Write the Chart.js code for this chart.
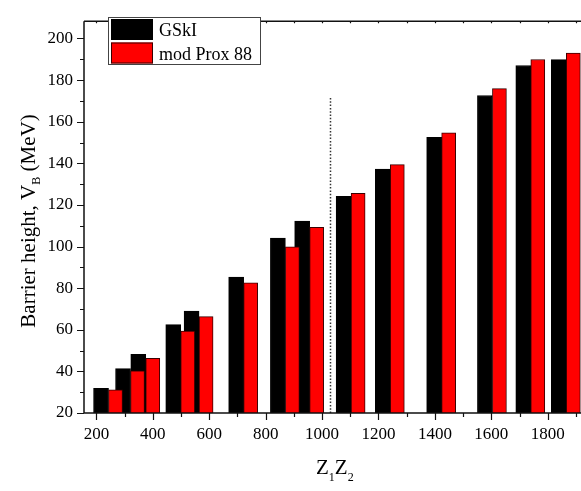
<!DOCTYPE html>
<html>
<head>
<meta charset="utf-8">
<script src="https://cdn.jsdelivr.net/npm/chart.js@4"></script>
<style>
	body { margin: 0; background: #fff; }
	#wrap { width: 581px; height: 491px; }
</style>
</head>
<body>
<div id="wrap"><canvas id="chart" width="581" height="491"></canvas></div>
<script>
// Z1Z2 of each system, and barrier heights (MeV)
const z12 = [243, 321, 375, 499, 564, 722, 870, 956, 1103, 1242, 1424, 1604, 1740, 1866]
const gski = [31.9, 41.3, 48.2, 62.5, 69.0, 85.3, 104.1, 112.2, 124.1, 137.2, 152.5, 172.6, 187.0, 189.8]
const prox = [31.1, 40.3, 46.3, 59.4, 66.3, 82.5, 99.9, 109.2, 125.6, 139.4, 154.7, 175.9, 189.9, 193.0]
const seriesNames = ['GSkI', 'mod Prox 88']

const xTicks = [200, 400, 600, 800, 1000, 1200, 1400, 1600, 1800]
const yTicks = [20, 40, 60, 80, 100, 120, 140, 160, 180, 200]
const dividerZ = 1028
const dividerTop = 172

const serif = "'Liberation Serif', 'Times New Roman', serif"
Chart.defaults.font.family = serif

// draw black first, red on top (Origin order)
const drawOrder = {
	id: 'drawOrder',
	beforeDatasetsDraw(chart) {
		const { ctx, chartArea: a } = chart
		ctx.save()
		ctx.beginPath()
		ctx.rect(a.left, a.top, a.right - a.left, a.bottom - a.top)
		ctx.clip()
		chart.data.datasets.forEach((ds, i) => chart.getDatasetMeta(i).controller.draw())
		ctx.restore()
		return false
	},
}

const frame = {
	id: 'frame',
	afterDraw(chart) {
		const { ctx, chartArea: a, scales } = chart
		const x = scales.x
		const y = scales.y
		ctx.save()

		// dotted divider
		ctx.strokeStyle = '#333'
		ctx.lineWidth = 1.5
		ctx.setLineDash([1.5, 1.8])
		const dx = Math.round(x.getPixelForValue(dividerZ)) + 0.5
		ctx.beginPath()
		ctx.moveTo(dx, a.bottom)
		ctx.lineTo(dx, y.getPixelForValue(dividerTop))
		ctx.stroke()
		ctx.setLineDash([])

		// axes frame
		ctx.strokeStyle = '#111'
		ctx.lineWidth = 1.5
		ctx.beginPath()
		ctx.moveTo(a.left, a.top)
		ctx.lineTo(a.left, a.bottom)
		ctx.lineTo(a.right, a.bottom)
		ctx.moveTo(a.left, a.top)
		ctx.lineTo(a.right, a.top)
		ctx.stroke()

		// ticks
		ctx.lineWidth = 1.2
		ctx.beginPath()
		for (let v = yTicks[0]; v <= yTicks[yTicks.length - 1]; v += 10) {
			const py = Math.round(y.getPixelForValue(v)) + 0.5
			const len = v % 20 === 0 ? 7 : 4
			ctx.moveTo(a.left - len, py)
			ctx.lineTo(a.left, py)
		}
		for (let v = 100; v <= 1900; v += 100) {
			const px = Math.round(x.getPixelForValue(v)) + 0.5
			if (px < a.left || px > a.right) continue
			const len = v % 200 === 0 ? 7 : 4
			ctx.moveTo(px, a.bottom)
			ctx.lineTo(px, a.bottom + len)
			ctx.moveTo(px, a.top)
			ctx.lineTo(px, a.top + 2)
		}
		ctx.stroke()

		// legend
		ctx.fillStyle = '#fff'
		ctx.fillRect(108, 17, 152, 47)
		ctx.strokeStyle = '#444'
		ctx.lineWidth = 1
		ctx.strokeRect(108.5, 17.5, 152, 47)
		chart.data.datasets.forEach((ds, i) => {
			const top = 19 + i * 23.5
			ctx.fillStyle = ds.backgroundColor
			ctx.fillRect(111, top, 42, 21)
			ctx.strokeStyle = ds.borderColor
			ctx.strokeRect(111.5, top + 0.5, 41, 20)
			ctx.fillStyle = '#000'
			ctx.font = `18px ${serif}`
			ctx.textBaseline = 'alphabetic'
			ctx.textAlign = 'left'
			ctx.fillText(ds.label, 159, top + 17)
		})

		// x title: Z1Z2
		ctx.fillStyle = '#000'
		ctx.textAlign = 'left'
		ctx.textBaseline = 'alphabetic'
		let tx = 316
		const parts = [['Z', 0], ['1', 1], ['Z', 0], ['2', 1]]
		parts.forEach(([t, sub]) => {
			ctx.font = sub ? `12px ${serif}` : `21px ${serif}`
			ctx.fillText(t, tx, sub ? 481 : 474)
			tx += ctx.measureText(t).width
		})

		// y title
		const yParts = [['Barrier height, V', 0], ['B', 1], [' (MeV)', 0]]
		let total = 0
		yParts.forEach(([t, sub]) => {
			ctx.font = sub ? `12px ${serif}` : `21px ${serif}`
			total += ctx.measureText(t).width
		})
		ctx.translate(35, 221)
		ctx.rotate(-Math.PI / 2)
		let ty = -total / 2
		yParts.forEach(([t, sub]) => {
			ctx.font = sub ? `12px ${serif}` : `21px ${serif}`
			ctx.fillText(t, ty, sub ? 5 : 0)
			ty += ctx.measureText(t).width
		})
		ctx.restore()
	},
}

const ctx = document.getElementById('chart').getContext('2d')
new Chart(ctx, {
	type: 'bar',
	data: {
		datasets: [
			{
				label: seriesNames[0],
				data: z12.map((z, i) => ({ x: z, y: gski[i] })),
				backgroundColor: '#000000',
				borderColor: '#000000',
				borderWidth: 1,
				barThickness: 15,
			},
			{
				label: seriesNames[1],
				data: z12.map((z, i) => ({ x: z, y: prox[i] })),
				backgroundColor: '#ff0000',
				borderColor: '#3a0000',
				borderWidth: 1,
				barThickness: 14,
			},
		],
	},
	options: {
		responsive: false,
		animation: false,
		layout: { padding: { top: 7, right: 0, left: 0, bottom: 0 } },
		plugins: {
			legend: { display: false },
			tooltip: { enabled: false },
		},
		scales: {
			x: {
				type: 'linear',
				min: 156,
				max: 1918,
				offset: false,
				grid: { display: false, drawTicks: false },
				border: { display: false },
				ticks: {
					color: '#000',
					padding: 11,
					maxRotation: 0,
					font: { family: serif, size: 17 },
					callback: (v) => String(v),
				},
				afterBuildTicks: (s) => {
					s.ticks = xTicks.map((v) => ({ value: v }))
				},
				afterFit: (s) => {
					s.height = 78
				},
			},
			y: {
				min: 20,
				max: 208.3,
				beginAtZero: false,
				grid: { display: false, drawTicks: false },
				border: { display: false },
				ticks: {
					color: '#000',
					padding: 11,
					font: { family: serif, size: 17 },
					callback: (v) => String(v),
				},
				afterBuildTicks: (s) => {
					s.ticks = yTicks.map((v) => ({ value: v }))
				},
				afterFit: (s) => {
					s.width = 84
				},
			},
		},
	},
	plugins: [drawOrder, frame],
})
</script>
</body>
</html>
